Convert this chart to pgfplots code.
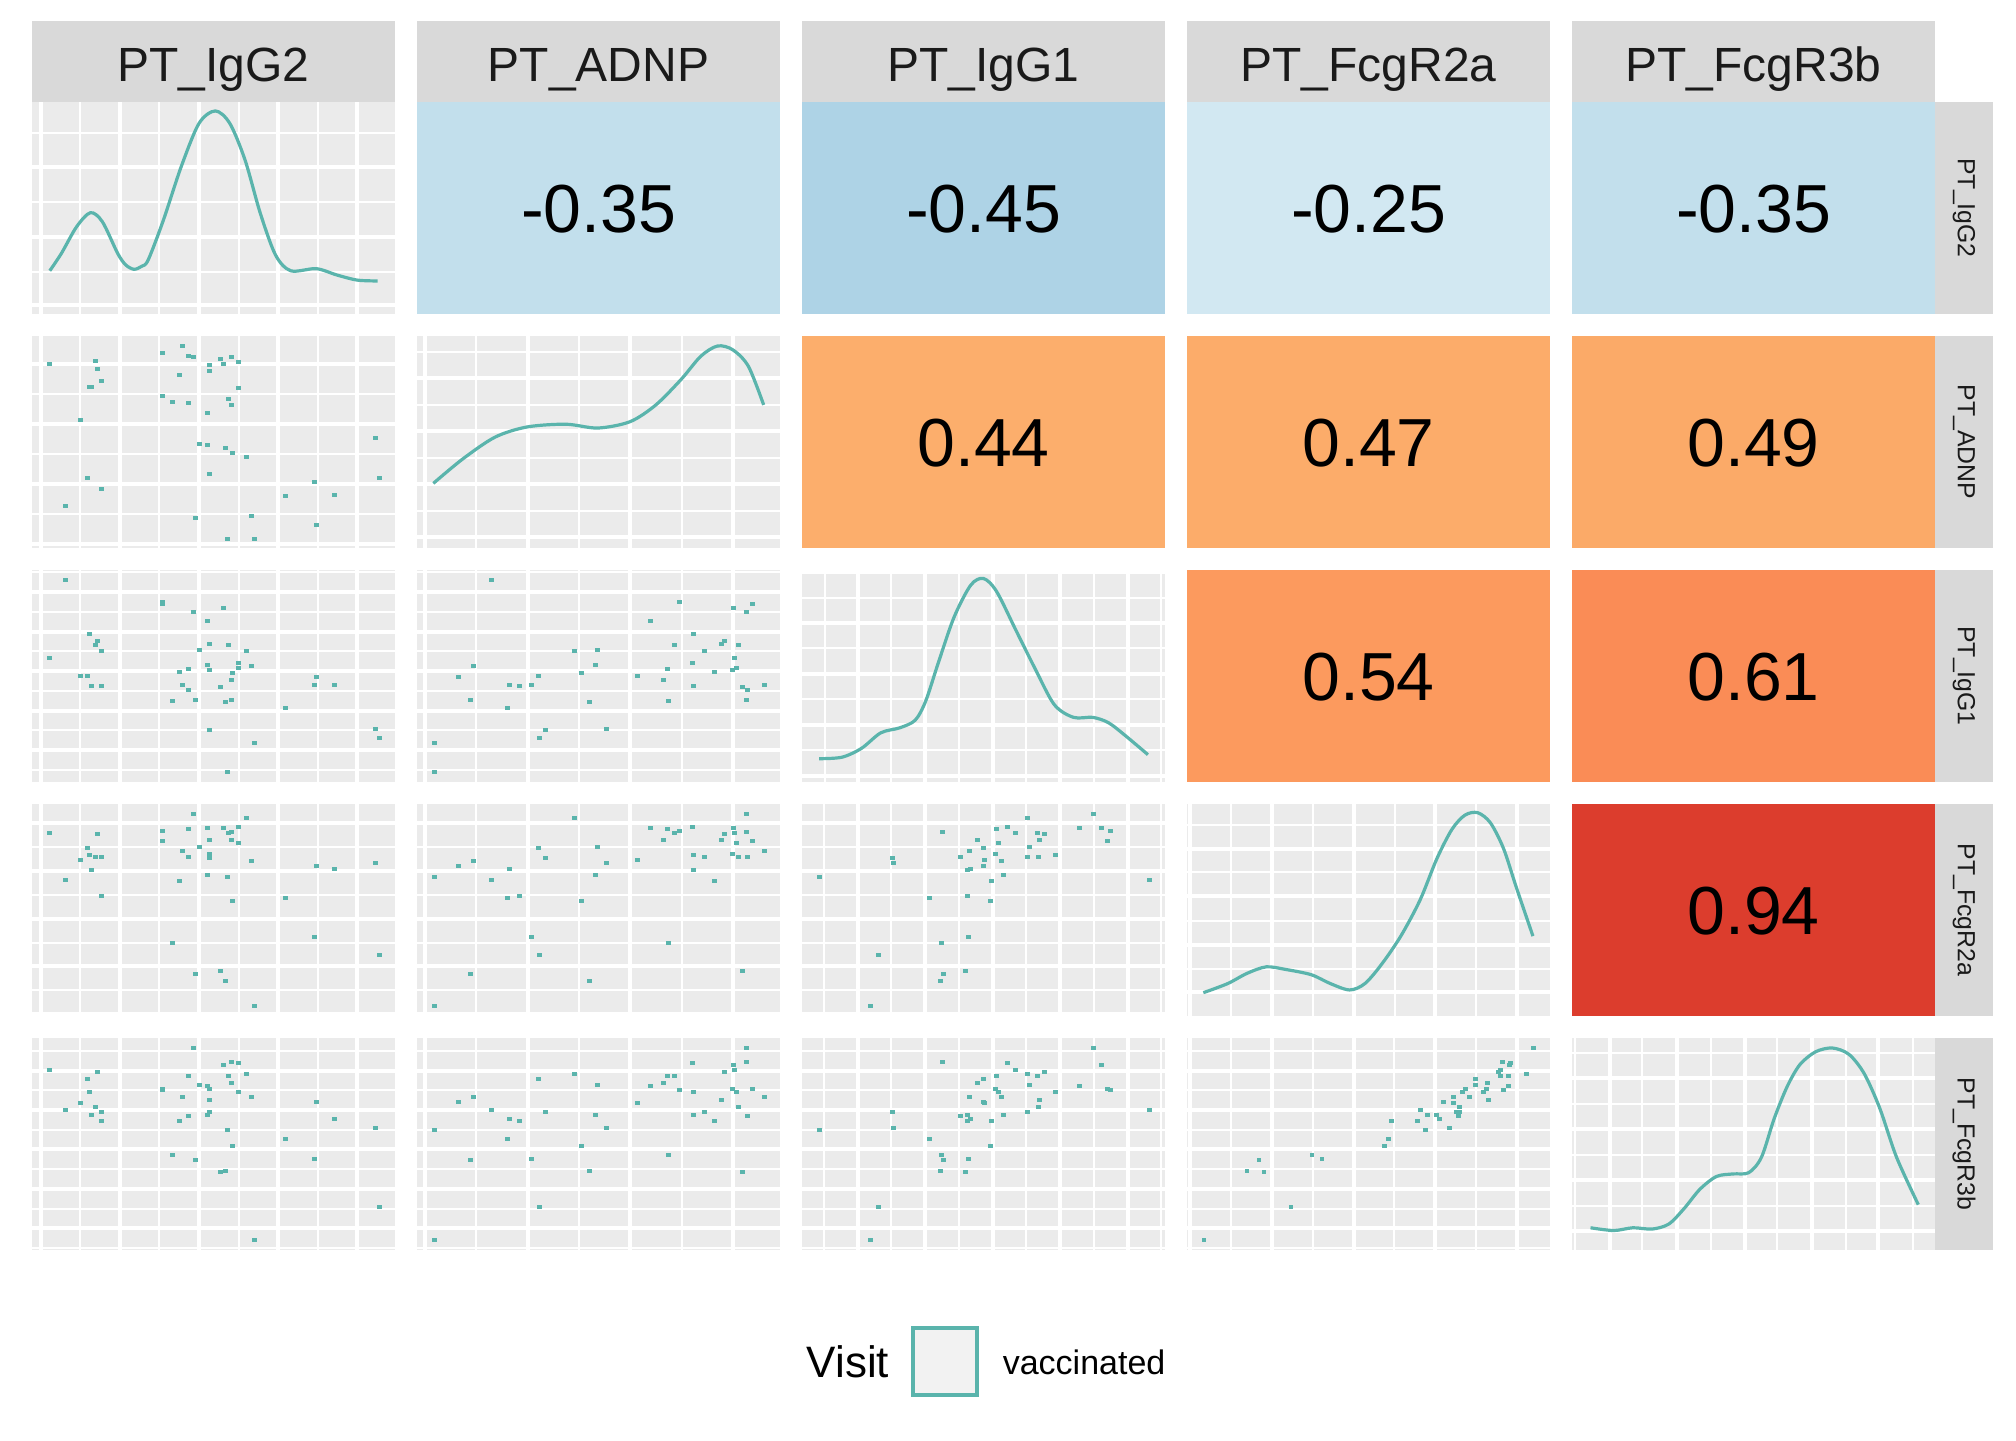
\documentclass[border=0pt]{standalone}
\usepackage{fontspec}
\setmainfont{Liberation Sans}
\usepackage{pgfplots}
\pgfplotsset{compat=1.18}
\definecolor{panelbg}{HTML}{EBEBEB}
\definecolor{stripbg}{HTML}{D9D9D9}
\definecolor{striptxt}{HTML}{1A1A1A}
\definecolor{teal5}{HTML}{5AB4AC}
\definecolor{cmA}{HTML}{D2E8F2}
\definecolor{cmB}{HTML}{C2DFEC}
\definecolor{cmC}{HTML}{AED3E6}
\definecolor{cpA}{HTML}{FCAE6C}
\definecolor{cpB}{HTML}{FCAC6A}
\definecolor{cpC}{HTML}{FBAA68}
\definecolor{cpD}{HTML}{FC9A5E}
\definecolor{cpE}{HTML}{FA8C56}
\definecolor{cpF}{HTML}{DC3D2D}
\pgfplotsset{
 pp/.style={width=90.75pt,height=53pt,scale only axis,anchor=center,
   axis background/.style={fill=panelbg},
   axis line style={draw=none}, tick style={draw=none},
   major tick length=0pt, minor tick length=0pt,
   xticklabels={}, yticklabels={}, grid=both,
   major grid style={white,line width=1pt},
   minor grid style={white,line width=0.5pt}},
 tile/.style={width=90.75pt,height=53pt,scale only axis,anchor=center,
   axis background/.style={fill=#1,draw=none},
   axis line style={draw=none}, xtick=\empty, ytick=\empty,
   xmin=0,xmax=1,ymin=0,ymax=1},
 sc/.style={only marks, color=teal5, mark=square*, mark size=0.45pt,
   mark options={solid,fill=teal5,draw=teal5,line width=0.1pt}},
 dens/.style={color=teal5, line width=0.8pt, smooth, no marks},
 c1/.style={xmin=20,xmax=1110,xtick={48,285,522,759,996},minor xtick={165,402,642,879}},
 c2/.style={xmin=15,xmax=1104,xtick={39,348,654,963},minor xtick={192,501,810}},
 c3/.style={xmin=8,xmax=1098,xtick={177,378,582,783,987},minor xtick={75,276,480,681,885,1086}},
 c4/.style={xmin=4,xmax=1094,xtick={12,258,504,750,996},minor xtick={135,381,627,873}},
 r2/.style={y dir=reverse,ymin=18,ymax=654,ytick={102,282,462,642},minor ytick={191,371,551}},
 r3/.style={y dir=reverse,ymin=15,ymax=651,ytick={80,200,318,438,555},minor ytick={20,141,258,378,495,615}},
 r4/.style={y dir=reverse,ymin=12,ymax=648,ytick={69,213,357,498,642},minor ytick={141,285,429,570}},
 r5/.style={y dir=reverse,ymin=9,ymax=645,ytick={108,225,342,462,579},minor ytick={48,165,285,402,522,639}},
 d/.style={xmin=0,xmax=1,ymin=0,ymax=1},
}
\newcommand{\corr}[1]{\node[anchor=base,inner sep=0,yshift=-6.1pt,font=\fontsize{17}{20}\selectfont] at (rel axis cs:0.5,0.5) {#1};}
\begin{document}
\begin{tikzpicture}
\path[use as bounding box] (0pt,0pt) rectangle (504pt,-360pt);
% top strips
\foreach \x/\lab in {8/PT\_IgG2,104.25/PT\_ADNP,200.5/PT\_IgG1,296.75/PT\_FcgR2a,393/PT\_FcgR3b}{
  \fill[stripbg] (\x pt,-5.25pt) rectangle ++(90.75pt,-20.25pt);
  \node[anchor=base,inner sep=0,text=striptxt,font=\fontsize{12}{14}\selectfont] at (\x pt+45.375pt,-20.25pt) {\lab};
}
% right strips
\foreach \y/\lab in {-25.5/PT\_IgG2,-84/PT\_ADNP,-142.5/PT\_IgG1,-201/PT\_FcgR2a,-259.5/PT\_FcgR3b}{
  \fill[stripbg] (483.75pt,\y pt) rectangle ++(14.5pt,-53pt);
  \node[rotate=-90,inner sep=0,text=striptxt,font=\fontsize{6.2}{7}\selectfont] at (491pt,\y pt-26.5pt) {\lab};
}
% ---------- row 1 ----------
\begin{axis}[pp,d,at={(53.375pt,-52pt)},
  xtick={0.026,0.243,0.461,0.678,0.896},minor xtick={0.133,0.350,0.570,0.788},
  ytick={0.042,0.363,0.693},minor ytick={0.198,0.528,0.854}]
\addplot[dens] coordinates {(0.049,0.204)(0.081,0.286)(0.123,0.412)(0.161,0.478)(0.194,0.435)(0.236,0.286)(0.258,0.232)(0.281,0.211)(0.302,0.225)(0.320,0.255)(0.362,0.443)(0.411,0.695)(0.460,0.899)(0.505,0.958)(0.545,0.899)(0.587,0.726)(0.629,0.475)(0.671,0.278)(0.713,0.204)(0.783,0.214)(0.840,0.184)(0.896,0.160)(0.952,0.156)};
\end{axis}
\begin{axis}[tile=cmB,at={(149.625pt,-52pt)}]\corr{-0.35}\end{axis}
\begin{axis}[tile=cmC,at={(245.875pt,-52pt)}]\corr{-0.45}\end{axis}
\begin{axis}[tile=cmA,at={(342.125pt,-52pt)}]\corr{-0.25}\end{axis}
\begin{axis}[tile=cmB,at={(438.375pt,-52pt)}]\corr{-0.35}\end{axis}
% ---------- row 2 ----------
\begin{axis}[pp,c1,r2,at={(53.375pt,-110.5pt)}]
\addplot[sc] coordinates {(471,47)(411,68)(489,77)(504,80)(618,80)(585,86)(639,95)(72,101)(210,92)(552,104)(594,101)(216,116)(552,122)(462,134)(228,152)(192,170)(198,170)(639,173)(411,197)(441,215)(489,218)(609,206)(618,224)(546,248)(165,269)(1050,323)(522,341)(546,344)(600,353)(621,368)(663,380)(186,443)(552,431)(1062,443)(867,455)(228,476)(780,497)(927,494)(120,527)(510,563)(678,557)(873,584)(606,626)(687,626)};
\end{axis}
\begin{axis}[pp,d,at={(149.625pt,-110.5pt)},
  xtick={0.022,0.306,0.587,0.870},minor xtick={0.163,0.446,0.730},
  ytick={0.05,0.30,0.55,0.80},minor ytick={0.175,0.425,0.675,0.925}]
\addplot[dens] coordinates {(0.045,0.305)(0.126,0.420)(0.215,0.523)(0.303,0.571)(0.410,0.584)(0.498,0.566)(0.587,0.596)(0.658,0.675)(0.728,0.796)(0.782,0.905)(0.828,0.953)(0.870,0.935)(0.913,0.857)(0.955,0.675)};
\end{axis}
\begin{axis}[tile=cpA,at={(245.875pt,-110.5pt)}]\corr{0.44}\end{axis}
\begin{axis}[tile=cpB,at={(342.125pt,-110.5pt)}]\corr{0.47}\end{axis}
\begin{axis}[tile=cpC,at={(438.375pt,-110.5pt)}]\corr{0.49}\end{axis}
% ---------- row 3 ----------
\begin{axis}[pp,c1,r3,at={(53.375pt,-169pt)}]
\addplot[sc] coordinates {(120,44)(411,110)(411,116)(594,128)(504,140)(546,167)(192,206)(216,227)(210,239)(552,236)(609,239)(228,257)(522,254)(663,257)(72,278)(546,299)(639,293)(678,302)(552,314)(639,308)(462,320)(489,311)(621,323)(165,332)(186,332)(873,335)(618,344)(198,362)(228,362)(471,359)(585,365)(867,359)(927,359)(489,374)(441,407)(510,404)(600,410)(618,404)(780,428)(552,494)(1050,491)(1062,518)(687,533)(606,620)};
\end{axis}
\begin{axis}[pp,c2,r3,at={(149.625pt,-169pt)}]
\addplot[sc] coordinates {(237,44)(801,110)(963,128)(1020,116)(1002,140)(714,167)(843,206)(786,239)(927,236)(936,227)(978,239)(486,257)(555,254)(876,257)(966,278)(183,302)(549,299)(840,293)(765,311)(960,314)(972,308)(138,335)(378,332)(507,323)(675,332)(906,320)(753,344)(291,359)(321,362)(357,359)(843,362)(990,365)(1005,374)(1056,359)(174,404)(531,410)(768,407)(1002,404)(285,428)(399,494)(582,491)(381,518)(66,533)(66,620)};
\end{axis}
\begin{axis}[pp,d,at={(245.875pt,-169pt)},
  xtick={0.155,0.339,0.526,0.711,0.898},minor xtick={0.062,0.246,0.433,0.617,0.804,0.989},
  ytick={0.03,0.27,0.51,0.75,0.99},minor ytick={0.15,0.39,0.63,0.87}]
\addplot[dens] coordinates {(0.047,0.110)(0.110,0.117)(0.164,0.159)(0.217,0.232)(0.270,0.256)(0.312,0.292)(0.341,0.383)(0.376,0.565)(0.419,0.778)(0.465,0.929)(0.500,0.960)(0.536,0.899)(0.589,0.717)(0.642,0.535)(0.695,0.365)(0.748,0.305)(0.801,0.305)(0.844,0.280)(0.890,0.220)(0.953,0.129)};
\end{axis}
\begin{axis}[tile=cpD,at={(342.125pt,-169pt)}]\corr{0.54}\end{axis}
\begin{axis}[tile=cpE,at={(438.375pt,-169pt)}]\corr{0.61}\end{axis}
% ---------- row 4 ----------
\begin{axis}[pp,c1,r4,at={(53.375pt,-227.5pt)}]
\addplot[sc] coordinates {(504,41)(663,53)(72,98)(216,101)(411,92)(489,86)(546,83)(594,83)(639,80)(609,98)(618,95)(411,122)(552,119)(618,119)(639,128)(186,143)(522,140)(471,152)(192,164)(210,170)(228,170)(165,179)(489,170)(552,161)(552,173)(678,182)(873,197)(927,206)(1050,188)(198,209)(120,239)(462,242)(546,224)(606,230)(228,287)(621,302)(780,293)(867,410)(441,428)(1062,464)(510,521)(585,512)(600,542)(687,617)};
\end{axis}
\begin{axis}[pp,c2,r4,at={(149.625pt,-227.5pt)}]
\addplot[sc] coordinates {(1002,41)(486,53)(714,83)(765,86)(786,98)(801,92)(840,80)(963,83)(936,101)(966,98)(1002,95)(753,119)(927,119)(972,128)(1020,122)(378,143)(555,140)(1056,152)(138,197)(183,182)(399,173)(582,188)(675,179)(843,164)(876,170)(960,161)(978,170)(1005,170)(291,206)(843,209)(66,230)(237,239)(549,224)(906,242)(285,293)(321,287)(507,302)(357,410)(768,428)(381,464)(174,521)(531,542)(990,512)(66,617)};
\end{axis}
\begin{axis}[pp,c3,r4,at={(245.875pt,-227.5pt)}]
\addplot[sc] coordinates {(684,53)(882,41)(429,95)(591,86)(624,80)(648,98)(714,98)(735,101)(840,83)(906,83)(933,92)(534,119)(597,128)(720,119)(924,122)(552,143)(690,140)(510,152)(279,173)(282,188)(483,170)(555,179)(588,161)(606,182)(684,170)(717,170)(768,164)(552,197)(504,209)(513,206)(60,230)(576,242)(612,224)(1050,239)(390,293)(504,287)(573,302)(507,410)(426,428)(237,464)(432,521)(498,512)(423,542)(213,617)};
\end{axis}
\begin{axis}[pp,d,at={(342.125pt,-227.5pt)},
  xtick={0.007,0.233,0.459,0.684,0.910},minor xtick={0.120,0.346,0.572,0.797},
  ytick={0.111,0.335,0.566,0.790},minor ytick={0.223,0.450,0.678,0.902}]
\addplot[dens] coordinates {(0.045,0.110)(0.112,0.153)(0.165,0.201)(0.218,0.232)(0.271,0.220)(0.342,0.195)(0.395,0.153)(0.448,0.123)(0.490,0.153)(0.536,0.244)(0.589,0.377)(0.642,0.547)(0.688,0.741)(0.730,0.881)(0.766,0.948)(0.801,0.959)(0.836,0.911)(0.872,0.790)(0.907,0.608)(0.953,0.377)};
\end{axis}
\begin{axis}[tile=cpF,at={(438.375pt,-227.5pt)}]\corr{0.94}\end{axis}
% ---------- row 5 ----------
\begin{axis}[pp,c1,r5,at={(53.375pt,-286pt)}]
\addplot[sc] coordinates {(504,38)(594,89)(618,80)(639,83)(72,104)(216,110)(489,122)(609,122)(663,116)(186,131)(522,149)(546,152)(552,161)(411,161)(411,164)(618,143)(192,170)(639,170)(471,185)(552,194)(678,185)(873,200)(165,203)(210,215)(120,224)(228,230)(198,239)(489,242)(546,239)(552,230)(462,257)(228,257)(927,251)(606,284)(1050,278)(780,311)(621,332)(441,359)(510,374)(867,371)(585,410)(600,407)(1062,515)(687,614)};
\end{axis}
\begin{axis}[pp,c2,r5,at={(149.625pt,-286pt)}]
\addplot[sc] coordinates {(1002,38)(840,83)(963,89)(1002,80)(936,110)(966,104)(486,116)(378,131)(765,122)(786,122)(555,149)(714,152)(753,143)(801,164)(843,170)(960,161)(972,170)(1020,161)(183,185)(138,200)(675,203)(927,194)(1056,185)(978,215)(237,224)(399,230)(549,239)(843,239)(876,230)(1005,242)(291,251)(321,257)(906,257)(66,284)(582,278)(285,311)(507,332)(174,374)(357,371)(768,359)(531,407)(990,410)(381,515)(66,614)};
\end{axis}
\begin{axis}[pp,c3,r5,at={(245.875pt,-286pt)}]
\addplot[sc] coordinates {(882,38)(429,80)(624,83)(906,89)(648,104)(735,110)(552,131)(591,122)(684,116)(714,122)(534,143)(690,149)(840,152)(588,161)(597,170)(924,161)(933,164)(768,170)(510,185)(606,185)(552,200)(555,203)(720,194)(717,215)(1050,224)(279,230)(483,242)(504,239)(513,251)(504,257)(576,257)(612,239)(684,230)(282,278)(60,284)(390,311)(573,332)(426,359)(432,374)(507,371)(423,407)(498,410)(237,515)(213,614)};
\end{axis}
\begin{axis}[pp,c4,r5,at={(342.125pt,-286pt)}]
\addplot[sc] coordinates {(1044,38)(951,80)(975,83)(972,89)(945,104)(939,110)(945,122)(969,122)(1023,116)(870,131)(870,149)(906,143)(840,161)(903,161)(954,164)(969,152)(831,170)(894,170)(804,185)(852,185)(909,194)(774,200)(804,203)(822,215)(705,224)(726,239)(753,239)(813,230)(822,230)(819,242)(762,251)(696,257)(618,257)(720,284)(792,278)(609,311)(597,332)(219,374)(183,407)(234,410)(378,359)(408,371)(315,515)(54,614)};
\end{axis}
\begin{axis}[pp,d,at={(438.375pt,-286pt)},
  xtick={0.104,0.288,0.476,0.660,0.844},minor xtick={0.009,0.193,0.382,0.566,0.755,0.939},
  ytick={0.09,0.33,0.57,0.81},minor ytick={0.21,0.45,0.69,0.93}]
\addplot[dens] coordinates {(0.051,0.105)(0.115,0.092)(0.168,0.105)(0.221,0.099)(0.267,0.123)(0.309,0.196)(0.352,0.286)(0.398,0.347)(0.444,0.359)(0.487,0.365)(0.522,0.438)(0.557,0.620)(0.593,0.772)(0.628,0.875)(0.671,0.935)(0.717,0.953)(0.763,0.923)(0.805,0.832)(0.848,0.668)(0.894,0.438)(0.954,0.214)};
\end{axis}
% ---------- legend ----------
\node[anchor=west,inner sep=0,font=\fontsize{11}{13}\selectfont] at (201.5pt,-340.5pt) {Visit};
\draw[teal5,line width=1pt,fill=black!5] (228.25pt,-332pt) rectangle (244.25pt,-348.75pt);
\node[anchor=west,inner sep=0,font=\fontsize{8.5}{10}\selectfont] at (250.5pt,-340.5pt) {vaccinated};
\end{tikzpicture}
\end{document}
